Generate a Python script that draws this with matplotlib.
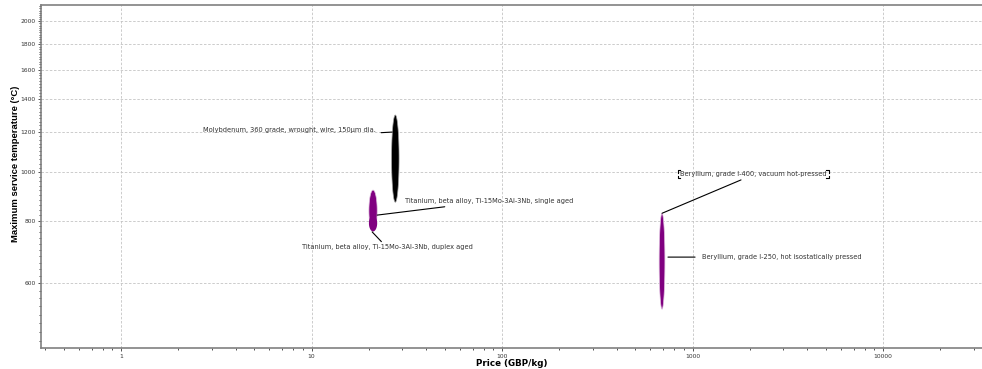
import numpy as np
import matplotlib
matplotlib.use('Agg')
import matplotlib.pyplot as plt
from matplotlib.lines import Line2D
from matplotlib.text import Text
from matplotlib.ticker import FixedLocator, NullFormatter, LogLocator, MultipleLocator


# Materials: price range (GBP/kg) and max service temperature range (C)
NAMES = ['Molybdenum, 360 grade, wrought, wire, 150\u00b5m dia.',
         'Titanium, beta alloy, Ti-15Mo-3Al-3Nb, single aged',
         'Titanium, beta alloy, Ti-15Mo-3Al-3Nb, duplex aged',
         'Beryllium, grade I-250, hot isostatically pressed']
PRICE_LO = [26.3, 20.0, 20.0, 668]
PRICE_HI = [28.8, 22.1, 22.1, 716]
TEMP_LO = [871, 762, 762, 533]
TEMP_HI = [1300, 921, 821, 828]
COLORS = ['#000000', '#800080', '#800080', '#800080']
EDGES = ['#a0a0a0', '#e0c0e0', 'none', '#e0c0e0']

# Leader anchors (price, temp) for labels
ANCHOR_NAMES = ['Molybdenum, 360 grade, wrought, wire, 150\u00b5m dia.',
                'Titanium, beta alloy, Ti-15Mo-3Al-3Nb, single aged',
                'Titanium, beta alloy, Ti-15Mo-3Al-3Nb, duplex aged',
                'Beryllium, grade I-400, vacuum hot-pressed',
                'Beryllium, grade I-250, hot isostatically pressed']
ANCHOR_PRICE = [26.5, 22.1, 20.8, 692, 743]
ANCHOR_TEMP = [1202, 821, 760, 828, 677]

Y_TICKS = [600, 800, 1000, 1200, 1400, 1600, 1800, 2000]
X_TICKS = [1, 10, 100, 1000, 10000]
X_TICK_LABELS = ['1', '10', '100', '1000', '10000']

# label text offsets (points), alignment and leader attachment point
OFFSETS = [(-12, 1.5), (20, 8), (11, -9), (13, 26), (24.5, 0)]
ALIGNS = [('right', 'center'), ('left', 'bottom'), ('center', 'top'),
          ('left', 'bottom'), ('left', 'center')]
RELPOS = [(1.0, 0.0), (0.37, 0.0), (0.48, 1.0), (0.46, 0.0), (0.0, 0.5)]
SHRINK = [2, 0, 0, 0, 3]

fig = plt.figure(figsize=(9.82, 3.69), dpi=100)
ax = fig.add_axes([0.0418, 0.0569, 0.958, 0.9295])
ax.set_xscale('log')
ax.set_yscale('log')
ax.set_xlim(0.38, 33000)
ax.set_ylim(446, 2154)

ax.grid(True, which='major', color='#c4c4c4', linestyle=(0, (3, 2)), linewidth=0.6)
ax.set_axisbelow(True)

t = np.linspace(0, 2 * np.pi, 200)
for i in range(len(NAMES)):
    lx0, lx1 = np.log10(PRICE_LO[i]), np.log10(PRICE_HI[i])
    ly0, ly1 = np.log10(TEMP_LO[i]), np.log10(TEMP_HI[i])
    cx, cy = (lx0 + lx1) / 2, (ly0 + ly1) / 2
    rx, ry = (lx1 - lx0) / 2, (ly1 - ly0) / 2
    ax.fill(10 ** (cx + rx * np.cos(t)), 10 ** (cy + ry * np.sin(t)),
            facecolor=COLORS[i], edgecolor=EDGES[i], linewidth=0.5, zorder=3)

labels = []
for i, name in enumerate(ANCHOR_NAMES):
    ha, va = ALIGNS[i]
    ann = ax.annotate(name, xy=(ANCHOR_PRICE[i], ANCHOR_TEMP[i]),
                      xytext=OFFSETS[i], textcoords='offset points',
                      ha=ha, va=va, fontsize=4.8, color='#333333',
                      arrowprops=dict(arrowstyle='-', color='black',
                                      linewidth=0.8, relpos=RELPOS[i],
                                      shrinkA=SHRINK[i], shrinkB=0),
                      zorder=4)
    labels.append(ann)

ax.yaxis.set_major_locator(FixedLocator(Y_TICKS))
ax.yaxis.set_minor_locator(MultipleLocator(20))
ax.yaxis.set_minor_formatter(NullFormatter())
ax.set_yticklabels([str(v) for v in Y_TICKS])
ax.xaxis.set_major_locator(FixedLocator(X_TICKS))
ax.xaxis.set_minor_locator(LogLocator(base=10, subs=np.arange(2, 10)))
ax.xaxis.set_minor_formatter(NullFormatter())
ax.set_xticklabels(X_TICK_LABELS)

ax.tick_params(which='both', labelsize=4.3, labelcolor='#333333', color='#333333')
ax.tick_params(which='major', length=2.5, width=0.6, pad=1.5)
ax.tick_params(which='minor', length=1.5, width=0.6)

for side in ['left', 'bottom', 'top']:
    ax.spines[side].set_color('#808080')
    ax.spines[side].set_linewidth(1.2)
ax.spines['right'].set_visible(False)

ax.set_xlabel('Price (GBP/kg)', fontsize=6.3, fontweight='bold', labelpad=0.5)
ax.set_ylabel('Maximum service temperature (\u00b0C)', fontsize=6.8,
              fontweight='bold', family=['Liberation Sans', 'DejaVu Sans'])
ax.yaxis.set_label_coords(-0.0225, 0.536)

# selection brackets around the I-400 label
fig.canvas.draw()
renderer = fig.canvas.get_renderer()
bb = Text.get_window_extent(labels[3], renderer).expanded(1.03, 1.3)
W, H = fig.bbox.width, fig.bbox.height
arm = 2.5
for x0, sgn in [(bb.x0, 1), (bb.x1, -1)]:
    for y0, vs in [(bb.y0, 1), (bb.y1, -1)]:
        fig.add_artist(Line2D([(x0 + sgn * arm) / W, x0 / W, x0 / W],
                              [y0 / H, y0 / H, (y0 + vs * arm) / H],
                              color='black', linewidth=0.8))

fig.savefig('out.png', dpi=100)
